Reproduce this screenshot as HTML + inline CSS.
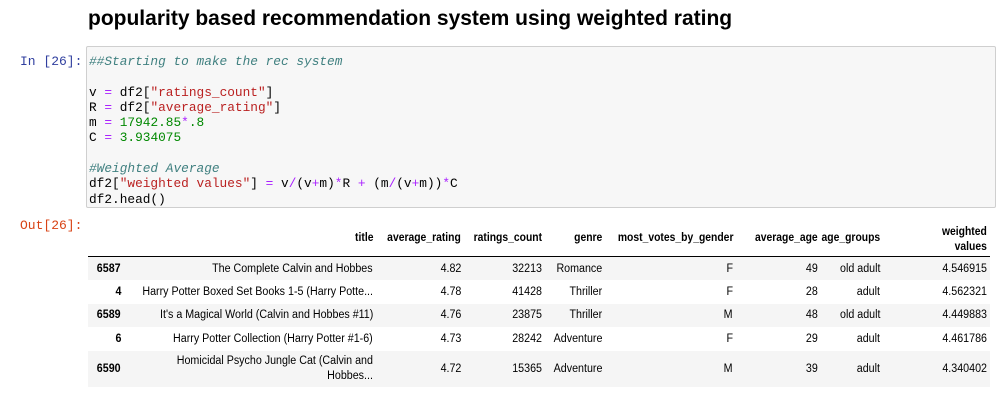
<!DOCTYPE html>
<html><head><meta charset="utf-8"><style>
body{margin:0;width:1004px;height:400px;background:#fff;position:relative;overflow:hidden;font-family:"Liberation Sans",sans-serif}
.a{position:absolute;white-space:nowrap}
h1{position:absolute;left:88px;top:7px;margin:0;font-size:21px;font-weight:bold;color:#000}
.prompt{font-family:"Liberation Mono",monospace;font-size:13px}
.code{position:absolute;left:86px;top:46px;width:908px;height:160px;background:#f7f7f7;border:1px solid #cfcfcf;border-radius:2px}
pre{position:absolute;left:89px;top:54px;margin:0;font-family:"Liberation Mono",monospace;font-size:12.8px;line-height:15.3px;color:#000}
.c{color:#408080;font-style:italic}.s{color:#ba2121}.n{color:#080}.o{color:#a2f}
.h{font-size:11.5px;font-weight:bold;text-align:right;color:#000;transform:scaleX(0.9);transform-origin:right center}
.d{font-size:11.5px;text-align:right;color:#000;transform:scaleX(0.93);transform-origin:right center}
.stripe{position:absolute;left:88px;width:902px;background:#f5f5f5}
</style></head><body>
<h1>popularity based recommendation system using weighted rating</h1>
<div class="a prompt" style="left:20px;top:54px;color:#303f9f">In [26]:</div>
<div class="code"></div>
<pre><span class="c">##Starting to make the rec system</span>

v <span class="o">=</span> df2[<span class="s">"ratings_count"</span>]
R <span class="o">=</span> df2[<span class="s">"average_rating"</span>]
m <span class="o">=</span> <span class="n">17942.85</span><span class="o">*</span><span class="n">.8</span>
C <span class="o">=</span> <span class="n">3.934075</span>

<span class="c">#Weighted Average</span>
df2[<span class="s">"weighted values"</span>] <span class="o">=</span> v<span class="o">/</span>(v<span class="o">+</span>m)<span class="o">*</span>R <span class="o">+</span> (m<span class="o">/</span>(v<span class="o">+</span>m))<span class="o">*</span>C
df2.head()</pre>
<div class="a prompt" style="left:20px;top:218px;color:#d84315">Out[26]:</div>
<div>
<div class="stripe" style="top:257px;height:23px"></div>
<div class="stripe" style="top:304px;height:23px"></div>
<div class="stripe" style="top:351px;height:36px"></div>
<div class="a" style="left:88px;top:256px;width:902px;height:1px;background:#000"></div>
<div id="hdr"></div><div id="rows"></div>
</div>
<script>
const rights=[121,373,461,542,602,733,818,880,987];
const headers=["","title","average_rating","ratings_count","genre","most_votes_by_gender","average_age","age_groups","weighted<br>values"];
const rows=[
["6587","The Complete Calvin and Hobbes","4.82","32213","Romance","F","49","old adult","4.546915"],
["4","Harry Potter Boxed Set Books 1-5 (Harry Potte...","4.78","41428","Thriller","F","28","adult","4.562321"],
["6589","It's a Magical World (Calvin and Hobbes #11)","4.76","23875","Thriller","M","48","old adult","4.449883"],
["6","Harry Potter Collection (Harry Potter #1-6)","4.73","28242","Adventure","F","29","adult","4.461786"],
["6590","Homicidal Psycho Jungle Cat (Calvin and<br>Hobbes...","4.72","15365","Adventure","M","39","adult","4.340402"]];
const rowTops=[262,285,308,332,354];
const H=document.getElementById('hdr'),R=document.getElementById('rows');
headers.forEach((t,i)=>{if(!t)return;const e=document.createElement('div');e.className='a h';


e.style.right=(1004-rights[i])+'px';e.style.top=(i==8?225:231)+'px';e.style.lineHeight='15px';e.innerHTML=t;H.appendChild(e);});
rows.forEach((r,ri)=>{r.forEach((t,i)=>{const e=document.createElement('div');e.className='a d';


e.style.lineHeight='15px';e.style.top=(rowTops[ri]+(ri==4&&i!=1?8:0))+'px';
if(i==0){e.style.fontWeight='bold';}
e.style.right=(1004-rights[i])+'px';
e.innerHTML=t;R.appendChild(e);});});
</script>
</body></html>
